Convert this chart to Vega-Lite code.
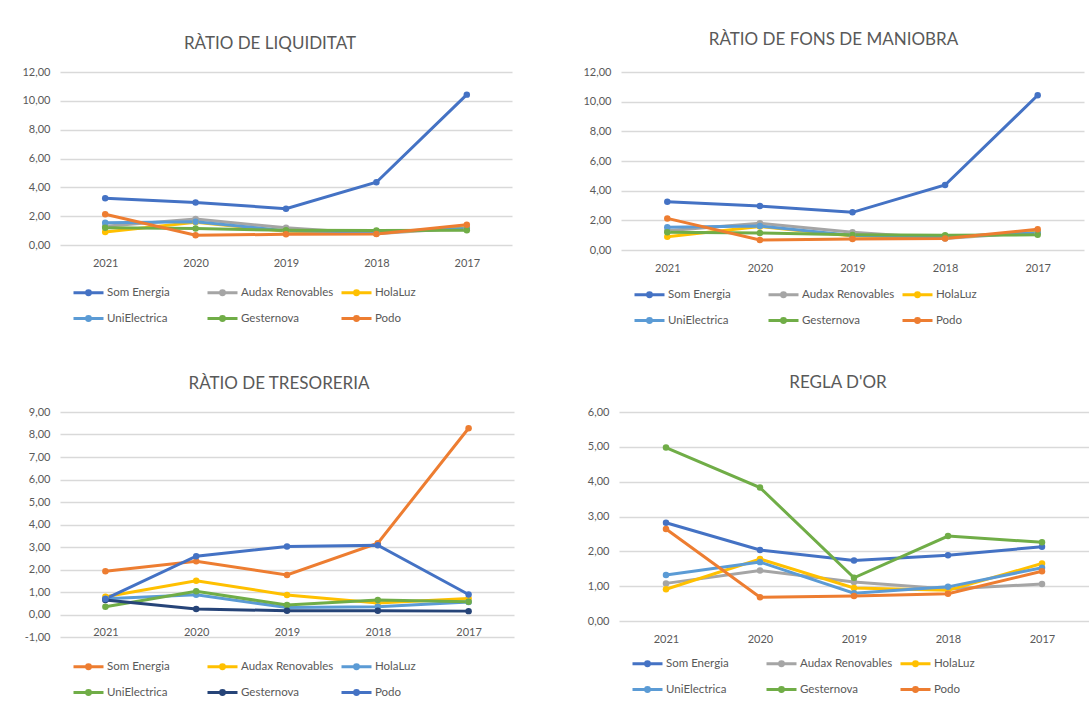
{
  "$schema": "https://vega.github.io/schema/vega-lite/v6.json",
  "padding": {"left": 5, "top": 31, "right": 0, "bottom": 0},
  "background": "white",
  "data": {"values": [
    {"p":"liq","c":"Som Energia","y":"2021","v":3.25},{"p":"liq","c":"Som Energia","y":"2020","v":2.95},{"p":"liq","c":"Som Energia","y":"2019","v":2.52},{"p":"liq","c":"Som Energia","y":"2018","v":4.35},{"p":"liq","c":"Som Energia","y":"2017","v":10.43},
    {"p":"liq","c":"Audax Renovables","y":"2021","v":1.30},{"p":"liq","c":"Audax Renovables","y":"2020","v":1.80},{"p":"liq","c":"Audax Renovables","y":"2019","v":1.19},{"p":"liq","c":"Audax Renovables","y":"2018","v":0.78},{"p":"liq","c":"Audax Renovables","y":"2017","v":1.20},
    {"p":"liq","c":"HolaLuz","y":"2021","v":0.90},{"p":"liq","c":"HolaLuz","y":"2020","v":1.58},{"p":"liq","c":"HolaLuz","y":"2019","v":0.95},{"p":"liq","c":"HolaLuz","y":"2018","v":0.85},{"p":"liq","c":"HolaLuz","y":"2017","v":1.20},
    {"p":"liq","c":"UniElectrica","y":"2021","v":1.54},{"p":"liq","c":"UniElectrica","y":"2020","v":1.62},{"p":"liq","c":"UniElectrica","y":"2019","v":0.98},{"p":"liq","c":"UniElectrica","y":"2018","v":0.90},{"p":"liq","c":"UniElectrica","y":"2017","v":1.15},
    {"p":"liq","c":"Gesternova","y":"2021","v":1.19},{"p":"liq","c":"Gesternova","y":"2020","v":1.15},{"p":"liq","c":"Gesternova","y":"2019","v":1.02},{"p":"liq","c":"Gesternova","y":"2018","v":1.00},{"p":"liq","c":"Gesternova","y":"2017","v":1.02},
    {"p":"liq","c":"Podo","y":"2021","v":2.13},{"p":"liq","c":"Podo","y":"2020","v":0.68},{"p":"liq","c":"Podo","y":"2019","v":0.74},{"p":"liq","c":"Podo","y":"2018","v":0.77},{"p":"liq","c":"Podo","y":"2017","v":1.40},

    {"p":"fm","c":"Som Energia","y":"2021","v":3.26},{"p":"fm","c":"Som Energia","y":"2020","v":2.96},{"p":"fm","c":"Som Energia","y":"2019","v":2.54},{"p":"fm","c":"Som Energia","y":"2018","v":4.38},{"p":"fm","c":"Som Energia","y":"2017","v":10.43},
    {"p":"fm","c":"Audax Renovables","y":"2021","v":1.30},{"p":"fm","c":"Audax Renovables","y":"2020","v":1.80},{"p":"fm","c":"Audax Renovables","y":"2019","v":1.19},{"p":"fm","c":"Audax Renovables","y":"2018","v":0.78},{"p":"fm","c":"Audax Renovables","y":"2017","v":1.20},
    {"p":"fm","c":"HolaLuz","y":"2021","v":0.90},{"p":"fm","c":"HolaLuz","y":"2020","v":1.58},{"p":"fm","c":"HolaLuz","y":"2019","v":0.95},{"p":"fm","c":"HolaLuz","y":"2018","v":0.85},{"p":"fm","c":"HolaLuz","y":"2017","v":1.20},
    {"p":"fm","c":"UniElectrica","y":"2021","v":1.54},{"p":"fm","c":"UniElectrica","y":"2020","v":1.62},{"p":"fm","c":"UniElectrica","y":"2019","v":0.98},{"p":"fm","c":"UniElectrica","y":"2018","v":0.90},{"p":"fm","c":"UniElectrica","y":"2017","v":1.15},
    {"p":"fm","c":"Gesternova","y":"2021","v":1.19},{"p":"fm","c":"Gesternova","y":"2020","v":1.15},{"p":"fm","c":"Gesternova","y":"2019","v":1.02},{"p":"fm","c":"Gesternova","y":"2018","v":1.00},{"p":"fm","c":"Gesternova","y":"2017","v":1.02},
    {"p":"fm","c":"Podo","y":"2021","v":2.13},{"p":"fm","c":"Podo","y":"2020","v":0.68},{"p":"fm","c":"Podo","y":"2019","v":0.74},{"p":"fm","c":"Podo","y":"2018","v":0.77},{"p":"fm","c":"Podo","y":"2017","v":1.40},

    {"p":"tr","c":"Som Energia","y":"2021","v":1.92},{"p":"tr","c":"Som Energia","y":"2020","v":2.37},{"p":"tr","c":"Som Energia","y":"2019","v":1.76},{"p":"tr","c":"Som Energia","y":"2018","v":3.17},{"p":"tr","c":"Som Energia","y":"2017","v":8.28},
    {"p":"tr","c":"Audax Renovables","y":"2021","v":0.79},{"p":"tr","c":"Audax Renovables","y":"2020","v":1.50},{"p":"tr","c":"Audax Renovables","y":"2019","v":0.87},{"p":"tr","c":"Audax Renovables","y":"2018","v":0.51},{"p":"tr","c":"Audax Renovables","y":"2017","v":0.71},
    {"p":"tr","c":"HolaLuz","y":"2021","v":0.70},{"p":"tr","c":"HolaLuz","y":"2020","v":0.88},{"p":"tr","c":"HolaLuz","y":"2019","v":0.31},{"p":"tr","c":"HolaLuz","y":"2018","v":0.34},{"p":"tr","c":"HolaLuz","y":"2017","v":0.56},
    {"p":"tr","c":"UniElectrica","y":"2021","v":0.34},{"p":"tr","c":"UniElectrica","y":"2020","v":1.03},{"p":"tr","c":"UniElectrica","y":"2019","v":0.42},{"p":"tr","c":"UniElectrica","y":"2018","v":0.64},{"p":"tr","c":"UniElectrica","y":"2017","v":0.57},
    {"p":"tr","c":"Gesternova","y":"2021","v":0.64},{"p":"tr","c":"Gesternova","y":"2020","v":0.24},{"p":"tr","c":"Gesternova","y":"2019","v":0.17},{"p":"tr","c":"Gesternova","y":"2018","v":0.17},{"p":"tr","c":"Gesternova","y":"2017","v":0.15},
    {"p":"tr","c":"Podo","y":"2021","v":0.69},{"p":"tr","c":"Podo","y":"2020","v":2.59},{"p":"tr","c":"Podo","y":"2019","v":3.02},{"p":"tr","c":"Podo","y":"2018","v":3.08},{"p":"tr","c":"Podo","y":"2017","v":0.89},

    {"p":"ro","c":"Som Energia","y":"2021","v":2.82},{"p":"ro","c":"Som Energia","y":"2020","v":2.04},{"p":"ro","c":"Som Energia","y":"2019","v":1.74},{"p":"ro","c":"Som Energia","y":"2018","v":1.89},{"p":"ro","c":"Som Energia","y":"2017","v":2.13},
    {"p":"ro","c":"Audax Renovables","y":"2021","v":1.08},{"p":"ro","c":"Audax Renovables","y":"2020","v":1.45},{"p":"ro","c":"Audax Renovables","y":"2019","v":1.12},{"p":"ro","c":"Audax Renovables","y":"2018","v":0.92},{"p":"ro","c":"Audax Renovables","y":"2017","v":1.06},
    {"p":"ro","c":"HolaLuz","y":"2021","v":0.91},{"p":"ro","c":"HolaLuz","y":"2020","v":1.78},{"p":"ro","c":"HolaLuz","y":"2019","v":0.95},{"p":"ro","c":"HolaLuz","y":"2018","v":0.88},{"p":"ro","c":"HolaLuz","y":"2017","v":1.65},
    {"p":"ro","c":"UniElectrica","y":"2021","v":1.32},{"p":"ro","c":"UniElectrica","y":"2020","v":1.69},{"p":"ro","c":"UniElectrica","y":"2019","v":0.80},{"p":"ro","c":"UniElectrica","y":"2018","v":0.98},{"p":"ro","c":"UniElectrica","y":"2017","v":1.53},
    {"p":"ro","c":"Gesternova","y":"2021","v":4.98},{"p":"ro","c":"Gesternova","y":"2020","v":3.83},{"p":"ro","c":"Gesternova","y":"2019","v":1.24},{"p":"ro","c":"Gesternova","y":"2018","v":2.44},{"p":"ro","c":"Gesternova","y":"2017","v":2.26},
    {"p":"ro","c":"Podo","y":"2021","v":2.64},{"p":"ro","c":"Podo","y":"2020","v":0.68},{"p":"ro","c":"Podo","y":"2019","v":0.72},{"p":"ro","c":"Podo","y":"2018","v":0.78},{"p":"ro","c":"Podo","y":"2017","v":1.43}
  ]},
  "vconcat": [
    {
      "hconcat": [
        {
          "title": {"text": "RÀTIO  DE LIQUIDITAT", "dx": -16, "offset": 13},
          "width": 452, "height": 173,
          "transform": [{"filter": "datum.p == 'liq'"}],
          "mark": {"type": "line", "strokeWidth": 3, "point": {"filled": true, "size": 42}},
          "encoding": {
            "x": {"field": "y", "type": "ordinal", "sort": ["2021","2020","2019","2018","2017"], "scale": {"type": "point", "padding": 0.5}, "axis": {"title": null, "labelAngle": 0, "grid": false, "labelPadding": 12}},
            "y": {"field": "v", "type": "quantitative", "scale": {"domain": [0, 12], "nice": false}, "axis": {"title": null, "values": [0,2,4,6,8,10,12], "labelExpr": "replace(format(datum.value, '.2f'), '.', ',')", "labelPadding": 10, "minExtent": 55}},
            "color": {"field": "c", "type": "nominal", "scale": {"domain": ["Som Energia","Audax Renovables","HolaLuz","UniElectrica","Gesternova","Podo"], "range": ["#4472C4","#A5A5A5","#FFC000","#5B9BD5","#70AD47","#ED7D31"]}, "legend": {"orient": "bottom", "direction": "horizontal", "columns": 3}}
          }
        },
        {
          "title": {"text": "RÀTIO DE FONS DE MANIOBRA", "dx": -19, "offset": 17},
          "width": 463, "height": 178,
          "transform": [{"filter": "datum.p == 'fm'"}],
          "mark": {"type": "line", "strokeWidth": 3, "point": {"filled": true, "size": 42}},
          "encoding": {
            "x": {"field": "y", "type": "ordinal", "sort": ["2021","2020","2019","2018","2017"], "scale": {"type": "point", "padding": 0.5}, "axis": {"title": null, "labelAngle": 0, "grid": false, "labelPadding": 12}},
            "y": {"field": "v", "type": "quantitative", "scale": {"domain": [0, 12], "nice": false}, "axis": {"title": null, "values": [0,2,4,6,8,10,12], "labelExpr": "replace(format(datum.value, '.2f'), '.', ',')", "labelPadding": 10, "minExtent": 55}},
            "color": {"field": "c", "type": "nominal", "scale": {"domain": ["Som Energia","Audax Renovables","HolaLuz","UniElectrica","Gesternova","Podo"], "range": ["#4472C4","#A5A5A5","#FFC000","#5B9BD5","#70AD47","#ED7D31"]}, "legend": {"orient": "bottom", "direction": "horizontal", "columns": 3, "offset": -7}}
          }
        }
      ],
      "spacing": 54,
      "resolve": {"scale": {"color": "independent", "x": "independent", "y": "independent"}, "legend": {"color": "independent"}}
    },
    {
      "hconcat": [
        {
          "title": {"text": "RÀTIO DE TRESORERIA", "dx": -8, "offset": 13},
          "width": 454, "height": 225,
          "transform": [{"filter": "datum.p == 'tr'"}],
          "mark": {"type": "line", "strokeWidth": 3, "point": {"filled": true, "size": 42}},
          "encoding": {
            "x": {"field": "y", "type": "ordinal", "sort": ["2021","2020","2019","2018","2017"], "scale": {"type": "point", "padding": 0.5}, "axis": {"title": null, "labelAngle": 0, "grid": false, "labelPadding": 12, "offset": -23}},
            "y": {"field": "v", "type": "quantitative", "scale": {"domain": [-1, 9], "nice": false}, "axis": {"title": null, "values": [-1,0,1,2,3,4,5,6,7,8,9], "labelExpr": "replace(replace(format(datum.value, '.2f'), '.', ','), '−', '-')", "labelPadding": 10, "minExtent": 53}},
            "color": {"field": "c", "type": "nominal", "scale": {"domain": ["Som Energia","Audax Renovables","HolaLuz","UniElectrica","Gesternova","Podo"], "range": ["#ED7D31","#FFC000","#5B9BD5","#70AD47","#264478","#4472C4"]}, "legend": {"orient": "bottom", "direction": "horizontal", "columns": 3, "offset": 1}}
          }
        },
        {
          "title": {"text": "REGLA D'OR", "dx": -16, "offset": 14},
          "width": 470, "height": 209,
          "transform": [{"filter": "datum.p == 'ro'"}],
          "mark": {"type": "line", "strokeWidth": 3, "point": {"filled": true, "size": 42}},
          "encoding": {
            "x": {"field": "y", "type": "ordinal", "sort": ["2021","2020","2019","2018","2017"], "scale": {"type": "point", "padding": 0.5}, "axis": {"title": null, "labelAngle": 0, "grid": false, "labelPadding": 12}},
            "y": {"field": "v", "type": "quantitative", "scale": {"domain": [0, 6], "nice": false}, "axis": {"title": null, "values": [0,1,2,3,4,5,6], "labelExpr": "replace(format(datum.value, '.2f'), '.', ',')", "labelPadding": 10, "minExtent": 55}},
            "color": {"field": "c", "type": "nominal", "scale": {"domain": ["Som Energia","Audax Renovables","HolaLuz","UniElectrica","Gesternova","Podo"], "range": ["#4472C4","#A5A5A5","#FFC000","#5B9BD5","#70AD47","#ED7D31"]}, "legend": {"orient": "bottom", "direction": "horizontal", "columns": 3, "offset": -9}}
          }
        }
      ],
      "spacing": 50,
      "resolve": {"scale": {"color": "independent", "x": "independent", "y": "independent"}, "legend": {"color": "independent"}}
    }
  ],
  "spacing": 33,
  "config": {
    "font": "Lato",
    "view": {"stroke": null},
    "title": {"fontSize": 17, "fontWeight": "normal", "color": "#595959", "font": "Lato", "offset": 13, "anchor": "middle"},
    "axis": {"labelFont": "Lato", "labelFontSize": 11, "labelColor": "#595959", "domain": false, "ticks": false, "gridColor": "#d9d9d9", "gridWidth": 1.3},
    "legend": {
      "title": null,
      "gridAlign": "all",
      "symbolType": "M-1,0H1M-0.13,0A0.13,0.13 0 1,0 0.13,0A0.13,0.13 0 1,0 -0.13,0",
      "symbolSize": 900,
      "symbolStrokeWidth": 3,
      "labelFont": "Lato",
      "labelFontSize": 11.5,
      "labelColor": "#595959",
      "labelOffset": 2,
      "labelLimit": 200,
      "columnPadding": 1,
      "rowPadding": 1,
      "padding": 12,
      "offset": -4
    }
  }
}
